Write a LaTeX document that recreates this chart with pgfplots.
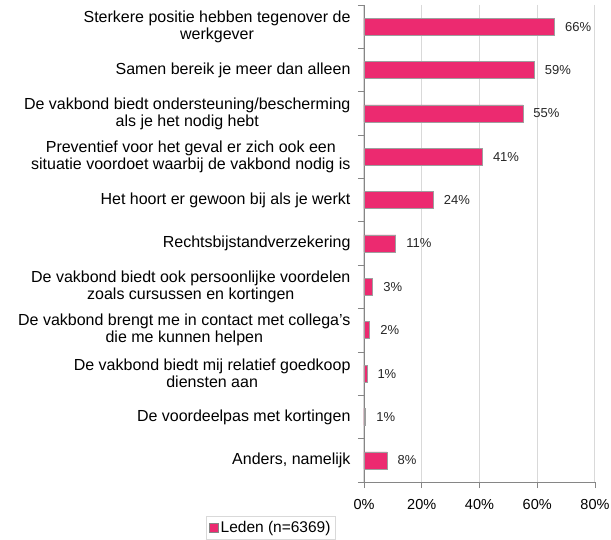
\documentclass[border=0pt]{standalone}
\usepackage{fontspec}
\setmainfont{Liberation Sans}
\usepackage{pgfplots}
\pgfplotsset{compat=1.18}
\definecolor{barpink}{HTML}{EC2A70}
\definecolor{axisgrey}{HTML}{868686}
\definecolor{gridgrey}{HTML}{D9D9D9}

\begin{document}
\begin{tikzpicture}[x=1pt,y=1pt]
\begin{axis}[
  at={(0,0)}, anchor=south west,
  scale only axis, width=231pt, height=477pt,
  /pgf/number format/assume math mode=true,
  xbar, bar width=17pt,
  xmin=0, xmax=80, ymin=-0.5, ymax=10.5, y dir=reverse,
  axis x line*=bottom, axis y line*=left,
  axis line style={axisgrey, line width=0.8pt, -},
  xtick={0,20,...,80},
  xticklabel={\pgfmathprintnumber{\tick}\%},
  xticklabel style={font=\fontsize{14.5}{16}\selectfont, yshift=-8pt},
  ytick={0,...,10},
  yticklabels={
    {Sterkere positie hebben tegenover de\\werkgever},
    {Samen bereik je meer dan alleen},
    {De vakbond biedt ondersteuning/bescherming\\als je het nodig hebt},
    {Preventief voor het geval er zich ook een\\situatie voordoet waarbij de vakbond nodig is},
    {Het hoort er gewoon bij als je werkt},
    {Rechtsbijstandverzekering},
    {De vakbond biedt ook persoonlijke voordelen\\zoals cursussen en kortingen},
    {De vakbond brengt me in contact met collega’s\\die me kunnen helpen},
    {De vakbond biedt mij relatief goedkoop\\diensten aan},
    {De voordeelpas met kortingen},
    {Anders, namelijk}},
  yticklabel style={align=center, font=\fontsize{16}{17}\selectfont, xshift=-4pt},
  minor ytick={-0.5,0.5,...,10.5},
  tick align=outside,
  major tick length=6pt, minor tick length=6pt,
  major x tick style={axisgrey, line width=0.8pt},
  major y tick style={draw=none},
  minor y tick style={axisgrey, line width=0.8pt},
  xmajorgrids, grid style={gridgrey, line width=1pt},
  point meta=x,
  nodes near coords={\pgfmathprintnumber[fixed, precision=0]{\pgfplotspointmeta}\%},
  nodes near coords style={anchor=west, xshift=7pt, font=\fontsize{13}{15}\selectfont, black!85},
  legend style={at={(axis description cs:-0.403,-0.0713)}, anchor=north,
    draw=gridgrey, line width=0.8pt, font=\fontsize{15.5}{17}\selectfont,
    inner xsep=3pt, inner ysep=3pt},
  legend image code/.code={\fill[barpink, draw=axisgrey, line width=0.4pt] (0pt,-4pt) rectangle (9pt,5pt);},
]
\addplot[fill=barpink, draw=axisgrey!80, line width=0.6pt] coordinates {
  (66,0) (59,1) (55,2) (41,3) (24,4) (11,5) (3,6) (2,7) (1,8) (0.6,9) (8,10)};
\addlegendentry{Leden (n=6369)\hspace{12pt}}
\end{axis}
\pgfresetboundingbox
\path[use as bounding box] (-364pt,-58pt) rectangle (247pt,482pt);
\end{tikzpicture}
\end{document}
